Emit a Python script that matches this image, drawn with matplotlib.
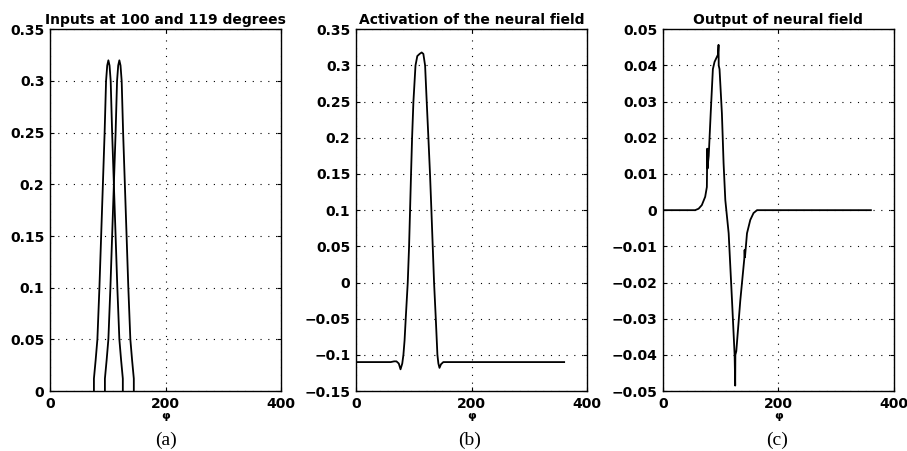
import matplotlib
matplotlib.use("Agg")
import matplotlib.pyplot as plt

# panel (a): two input bumps
in1_x = [76, 76, 79, 82, 85.5, 88.5, 91.5, 94.5, 97, 99, 101, 103, 105, 107.5,
         110.5, 113.5, 116.5, 120, 123, 126, 126]
in2_x = [95, 95, 98, 101, 104.5, 107.5, 110.5, 113.5, 116, 118, 120, 122, 124,
         126.5, 129.5, 132.5, 135.5, 139, 142, 145, 145]
in_y = [0, 0.012, 0.03, 0.05, 0.1, 0.15, 0.2, 0.25, 0.3, 0.315, 0.32, 0.315,
        0.3, 0.25, 0.2, 0.15, 0.1, 0.05, 0.03, 0.012, 0]

# panel (b): activation
act_x = [0, 60, 66, 70, 74, 77, 80, 82, 84, 86, 89.5, 91.8, 93.5, 95.2, 97,
         99.3, 102.9, 106, 110, 113.6, 116.5, 119.5, 122.3, 125.2, 128, 130.4,
         132.7, 135, 138, 140.8, 142.5, 144.4, 147, 151, 360]
act_y = [-0.11, -0.11, -0.109, -0.109, -0.112, -0.12, -0.112, -0.1, -0.08,
         -0.05, 0, 0.05, 0.1, 0.15, 0.2, 0.25, 0.3, 0.313, 0.316, 0.318, 0.316,
         0.3, 0.25, 0.2, 0.15, 0.1, 0.05, 0, -0.05, -0.1, -0.112, -0.118,
         -0.113, -0.11, -0.11]

# panel (c): output
out_x = [0, 56, 62, 67.6, 73.4, 76.3, 77, 77.5, 78.2, 79.5, 83, 86.7, 89.6,
         95.5, 96.5, 96.8, 98.2, 102.3, 105.2, 108.2, 114, 119.8, 124.3, 125.3,
         125.6, 127.2, 134.1, 141, 141.6, 142.2, 145.7, 151.4, 157, 163, 360]
out_y = [0, 0, 0.0004, 0.0014, 0.0037, 0.0064, 0.017, 0.0115, 0.013, 0.015,
         0.027, 0.039, 0.041, 0.043, 0.0457, 0.04, 0.039, 0.0268, 0.013,
         0.0028, -0.0064, -0.025, -0.04, -0.0485, -0.04, -0.039, -0.025,
         -0.0135, -0.011, -0.013, -0.0064, -0.0027, -0.0008, 0, 0]

titles = ["Inputs at 100 and 119 degrees", "Activation of the neural field",
          "Output of neural field"]
captions = ["(a)", "(b)", "(c)"]
ylims = [(0, 0.35), (-0.15, 0.35), (-0.05, 0.05)]
yticks = [[0, 0.05, 0.1, 0.15, 0.2, 0.25, 0.3, 0.35],
          [-0.15, -0.1, -0.05, 0, 0.05, 0.1, 0.15, 0.2, 0.25, 0.3, 0.35],
          [-0.05, -0.04, -0.03, -0.02, -0.01, 0, 0.01, 0.02, 0.03, 0.04, 0.05]]
ylabels = [["0", "0.05", "0.1", "0.15", "0.2", "0.25", "0.3", "0.35"],
           ["\u22120.15", "\u22120.1", "\u22120.05", "0", "0.05", "0.1", "0.15",
            "0.2", "0.25", "0.3", "0.35"],
           ["\u22120.05", "\u22120.04", "\u22120.03", "\u22120.02", "\u22120.01",
            "0", "0.01", "0.02", "0.03", "0.04", "0.05"]]

fig = plt.figure(figsize=(9.07, 4.51), dpi=100)
lefts = [0.0551, 0.3925, 0.7307]
cap_x = [0.183, 0.518, 0.857]
axes = []
for i in range(3):
    ax = fig.add_axes([lefts[i], 0.133, 0.255, 0.802])
    axes.append(ax)
    ax.set_xlim(0, 400)
    ax.set_ylim(*ylims[i])
    ax.set_xticks([0, 200, 400])
    ax.set_xticklabels(["0", "200", "400"])
    ax.set_yticks(yticks[i])
    ax.set_yticklabels(ylabels[i])
    ax.tick_params(direction="in", length=3, width=0.8, top=True, right=True,
                   labelsize=10, pad=4)
    for lab in ax.get_xticklabels() + ax.get_yticklabels():
        lab.set_fontweight("bold")
    ax.grid(True, color="black", linestyle=(0, (1, 6)), linewidth=0.8)
    for s in ax.spines.values():
        s.set_linewidth(1.0)
    ax.set_title(titles[i], fontsize=10, fontweight="bold", pad=4)
    ax.set_xlabel("\u03c6", fontsize=8, fontweight="bold", labelpad=0)
    fig.text(cap_x[i], 0.024, captions[i], ha="center", va="center",
             fontsize=14, family="Liberation Serif")

axes[0].plot(in1_x, in_y, color="black", linewidth=1.3)
axes[0].plot(in2_x, in_y, color="black", linewidth=1.3)
axes[1].plot(act_x, act_y, color="black", linewidth=1.3)
axes[2].plot(out_x, out_y, color="black", linewidth=1.3)

fig.savefig("out.png", dpi=100)
